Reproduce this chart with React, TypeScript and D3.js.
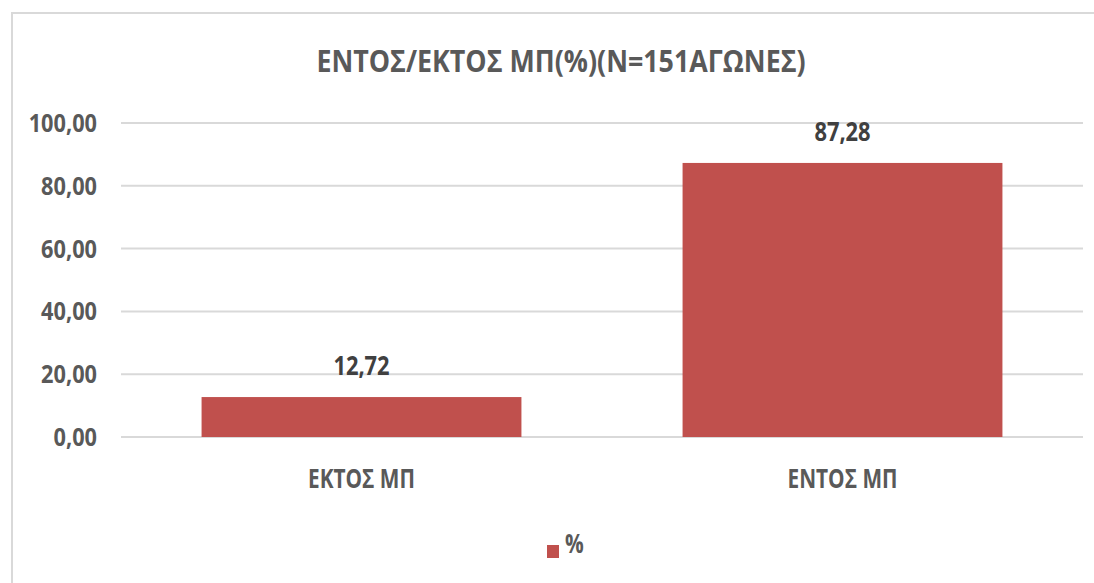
import React from "react";
import * as d3 from "d3";

const title = "ΕΝΤΟΣ/ΕΚΤΟΣ ΜΠ(%)(Ν=151ΑΓΩΝΕΣ)";
const categories = ["ΕΚΤΟΣ ΜΠ", "ΕΝΤΟΣ ΜΠ"];
const values = [12.72, 87.28];
const yTicks = [0, 20, 40, 60, 80, 100];
const seriesName = "%";

const W = 1094;
const H = 583;
const FONT = "'Open Sans', 'Noto Sans', sans-serif";
const BAR = "#C0504D";
const TXT = "#595959";

const fmt = (v: number) => v.toFixed(2).replace(".", ",");

function T(props: {
  x: number;
  y: number;
  sx: number;
  size: number;
  anchor?: string;
  fill?: string;
  children: React.ReactNode;
}) {
  const { x, y, sx, size, anchor = "start", fill = TXT, children } = props;
  return (
    <g transform={`translate(${x},${y}) scale(${sx},1)`}>
      <text x={0} y={0} textAnchor={anchor} fontSize={size} fill={fill}>
        {children}
      </text>
    </g>
  );
}

export default function App() {
  const x = d3
    .scaleBand<string>()
    .domain(categories)
    .range([121, 1083])
    .paddingInner(0.335)
    .paddingOuter(0.1675);
  const y = d3.scaleLinear().domain([0, 100]).range([437, 123]);

  return (
    <svg
      width={W}
      height={H}
      style={{ position: "absolute", left: 0, top: 0, background: "#fff" }}
      fontFamily={FONT}
      fontWeight="bold"
    >
      <rect x={12} y={13} width={W + 20} height={H + 20} fill="#fff" stroke="#d9d9d9" strokeWidth={2} />
      <T x={561} y={72} sx={0.865} size={31} anchor="middle">
        {title}
      </T>
      {yTicks.map((t) => (
        <g key={t}>
          <line x1={121} x2={1083} y1={y(t)} y2={y(t)} stroke="#d9d9d9" strokeWidth={2} />
          <T x={97} y={y(t) + 9} sx={0.87} size={25} anchor="end">
            {fmt(t)}
          </T>
        </g>
      ))}
      {categories.map((c, i) => (
        <g key={c}>
          <rect
            x={x(c)!}
            y={y(values[i])}
            width={x.bandwidth()}
            height={y(0) - y(values[i])}
            fill={BAR}
          />
          <T
            x={x(c)! + x.bandwidth() / 2}
            y={y(values[i]) - 22}
            sx={0.81}
            size={27}
            anchor="middle"
            fill="#404040"
          >
            {fmt(values[i])}
          </T>
          <T x={x(c)! + x.bandwidth() / 2} y={488} sx={0.8} size={26} anchor="middle">
            {c}
          </T>
        </g>
      ))}
      <rect x={547} y={545} width={12} height={13} fill={BAR} />
      <T x={565} y={553} sx={0.8} size={26}>
        {seriesName}
      </T>
    </svg>
  );
}
